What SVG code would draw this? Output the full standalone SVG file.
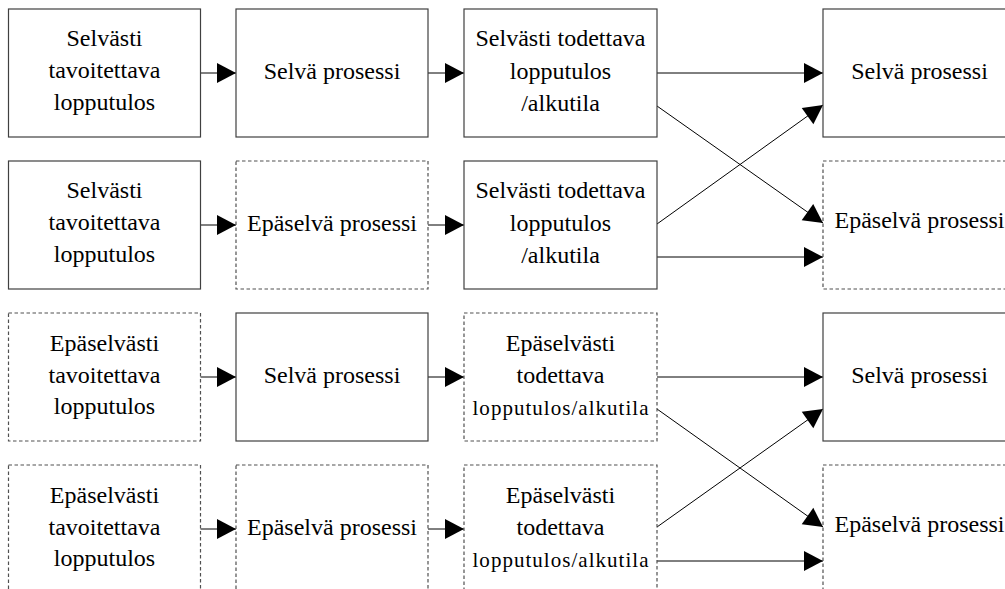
<svg xmlns="http://www.w3.org/2000/svg" width="1005" height="589" viewBox="0 0 1005 589">
<style>
.box{fill:#fff;stroke:#404040;stroke-width:1.2}
.dash{fill:#fff;stroke:#505050;stroke-width:1.2;stroke-dasharray:3.5 2.5}
text{font-family:"Liberation Serif","Times New Roman",serif;font-size:24px;fill:#000;text-anchor:middle}
.sm{font-size:21px}
.c{fill:none;stroke:#000;stroke-width:1;marker-end:url(#ah)}
</style>
<defs>
<marker id="ah" markerUnits="userSpaceOnUse" markerWidth="20" markerHeight="20" refX="19" refY="10" orient="auto" overflow="visible">
<path d="M0,0 L19,10 L0,20 Z" fill="#000"/>
</marker>
</defs>
<rect width="1005" height="589" fill="#fff"/>

<g id="connectors">
<line class="c" x1="200" y1="73" x2="236" y2="73"/>
<line class="c" x1="428" y1="73" x2="464" y2="73"/>
<line class="c" x1="200" y1="225" x2="236" y2="225"/>
<line class="c" x1="428" y1="225" x2="464" y2="225"/>
<line class="c" x1="200" y1="377" x2="236" y2="377"/>
<line class="c" x1="428" y1="377" x2="464" y2="377"/>
<line class="c" x1="200" y1="529" x2="236" y2="529"/>
<line class="c" x1="428" y1="529" x2="464" y2="529"/>

<line class="c" x1="657" y1="73" x2="823" y2="73"/>
<line class="c" x1="657" y1="106" x2="823" y2="223"/>
<line class="c" x1="657" y1="224" x2="823" y2="105"/>
<line class="c" x1="657" y1="257" x2="823" y2="257"/>

<line class="c" x1="657" y1="377" x2="823" y2="377"/>
<line class="c" x1="657" y1="409" x2="823" y2="527"/>
<line class="c" x1="657" y1="527" x2="823" y2="409"/>
<line class="c" x1="657" y1="561" x2="823" y2="561"/>
</g>

<!-- Row 1 -->
<g id="r1c1"><rect class="box" x="8.5" y="9" width="192" height="128"/>
<text x="104.5" y="46">Selvästi</text><text x="104.5" y="78">tavoitettava</text><text x="104.5" y="110">lopputulos</text></g>
<g id="r1c2"><rect class="box" x="236" y="9" width="192" height="128"/>
<text x="332" y="79">Selvä prosessi</text></g>
<g id="r1c3"><rect class="box" x="464" y="9" width="193" height="128"/>
<text x="560.5" y="46">Selvästi todettava</text><text x="560.5" y="79">lopputulos</text><text x="560.5" y="111">/alkutila</text></g>
<g id="r1c4"><rect class="box" x="823" y="9" width="193" height="128"/>
<text x="919.5" y="79">Selvä prosessi</text></g>

<!-- Row 2 -->
<g id="r2c1"><rect class="box" x="8.5" y="161" width="192" height="128"/>
<text x="104.5" y="198">Selvästi</text><text x="104.5" y="230">tavoitettava</text><text x="104.5" y="262">lopputulos</text></g>
<g id="r2c2"><rect class="dash" x="236" y="161" width="192" height="128"/>
<text x="332" y="231">Epäselvä prosessi</text></g>
<g id="r2c3"><rect class="box" x="464" y="161" width="193" height="128"/>
<text x="560.5" y="198">Selvästi todettava</text><text x="560.5" y="231">lopputulos</text><text x="560.5" y="263">/alkutila</text></g>
<g id="r2c4"><rect class="dash" x="823" y="161" width="193" height="128"/>
<text x="919.5" y="228">Epäselvä prosessi</text></g>

<!-- Row 3 -->
<g id="r3c1"><rect class="dash" x="8.5" y="313" width="192" height="128"/>
<text x="104.5" y="351">Epäselvästi</text><text x="104.5" y="383">tavoitettava</text><text x="104.5" y="414">lopputulos</text></g>
<g id="r3c2"><rect class="box" x="236" y="313" width="192" height="128"/>
<text x="332" y="383">Selvä prosessi</text></g>
<g id="r3c3"><rect class="dash" x="464" y="313" width="193" height="128"/>
<text x="560.5" y="351">Epäselvästi</text><text x="560.5" y="383">todettava</text><text class="sm" x="560.5" y="415" textLength="176" lengthAdjust="spacing">lopputulos/alkutila</text></g>
<g id="r3c4"><rect class="box" x="823" y="313" width="193" height="128"/>
<text x="919.5" y="383">Selvä prosessi</text></g>

<!-- Row 4 -->
<g id="r4c1"><rect class="dash" x="8.5" y="465" width="192" height="128"/>
<text x="104.5" y="503">Epäselvästi</text><text x="104.5" y="535">tavoitettava</text><text x="104.5" y="566">lopputulos</text></g>
<g id="r4c2"><rect class="dash" x="236" y="465" width="192" height="128"/>
<text x="332" y="535">Epäselvä prosessi</text></g>
<g id="r4c3"><rect class="dash" x="464" y="465" width="193" height="128"/>
<text x="560.5" y="503">Epäselvästi</text><text x="560.5" y="535">todettava</text><text class="sm" x="560.5" y="567" textLength="176" lengthAdjust="spacing">lopputulos/alkutila</text></g>
<g id="r4c4"><rect class="dash" x="823" y="465" width="193" height="128"/>
<text x="919.5" y="532">Epäselvä prosessi</text></g>
</svg>
